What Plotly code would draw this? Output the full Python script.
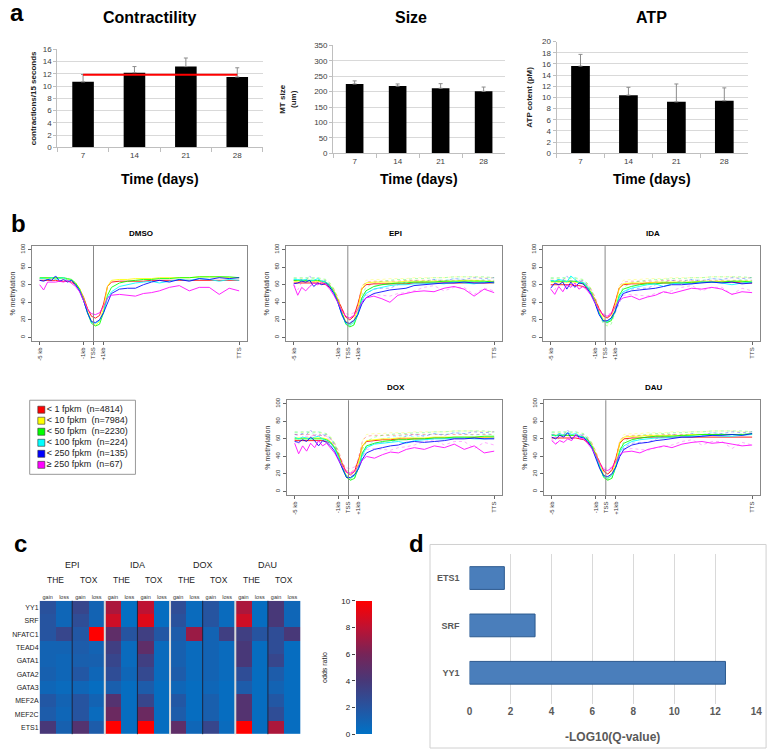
import plotly.graph_objects as go

W, H = 778, 755
FONT = "Liberation Sans, Arial, sans-serif"

# ---------------- panel a data ----------------
days = ["7", "14", "21", "28"]
contractility = [10.7, 12.2, 13.2, 11.5]
contractility_err = [1.2, 1.0, 1.4, 1.5]
contractility_mean = 11.85
mt_size = [225, 218, 211, 201]
mt_size_err = [10, 7, 15, 14]
atp_content = [15.6, 10.4, 9.2, 9.4]
atp_err = [2.1, 1.4, 3.2, 2.3]

# ---------------- panel b data ----------------
# genomic bins: -5kb ... -1kb, TSS, +1kb ... TTS (scaled gene body)
region_bins = [0, 2, 4, 6, 8, 10, 12, 14, 16, 18, 20, 22, 24, 26, 28, 30, 32, 34, 36,
               40, 44, 48, 52, 56, 60, 65, 70, 75, 80, 85, 90, 95, 100]
region_tick_pos = [0, 22, 27, 32, 100]
region_tick_text = ["-5 kb", "-1kb", "TSS", "+1kb", "TTS"]
tss_pos = 27

expr_labels = ["&lt; 1 fpkm\u00a0 (n=4814)", "&lt; 10 fpkm\u00a0 (n=7984)", "&lt; 50 fpkm\u00a0 (n=2230)",
               "&lt; 100 fpkm\u00a0 (n=224)", "&lt; 250 fpkm\u00a0 (n=135)", "\u2265 250 fpkm\u00a0 (n=67)"]
expr_colors = ["#ff0000", "#ffff00", "#00ff00", "#00ffff", "#0000ff", "#ff00ff"]

meth_dmso = [
    [65,65,65,65,65,64,64,64,63,60,55,46,33,24,22,25,38,58,63, 64,64,64,64,65,65, 65,65,65,65,65,65,65,65],
    [67,67,67,67,67,67,67,66,65,62,56,45,30,18,14,18,33,58,65, 66,66,67,67,67,68, 68,68,68,69,69,69,68,68],
    [68,68,68,68,68,68,68,67,66,62,55,43,28,16,13,15,28,48,57, 62,64,65,66,66,67, 67,68,68,69,69,69,69,68],
    [67,67,66,68,66,67,68,65,65,60,54,42,28,17,16,19,28,45,52, 58,60,62,63,64,62, 64,66,65,67,66,64,66,65],
    [65,64,66,65,70,64,66,63,65,60,53,42,28,18,17,20,28,40,50, 55,56,56,60,63,65, 63,66,64,67,66,68,67,68],
    [60,54,63,63,63,64,63,65,62,58,52,42,32,27,26,28,35,45,48, 49,48,47,50,51,53, 57,59,53,57,57,49,56,53],
]
meth_epi = [
    [62,62,62,62,62,62,62,61,60,57,52,43,32,23,20,24,38,55,60, 61,61,61,61,61,62, 62,62,62,62,62,62,62,62],
    [64,64,64,64,64,64,64,63,62,59,53,43,29,18,15,19,33,55,62, 63,63,63,63,64,64, 64,64,64,64,65,65,64,64],
    [65,65,65,65,65,65,65,64,63,59,52,41,27,15,12,14,26,45,53, 58,60,61,62,62,63, 63,63,64,64,64,64,64,63],
    [66,66,65,66,64,65,67,64,63,58,51,40,26,16,14,17,26,42,50, 55,57,59,60,60,61, 61,62,61,63,62,61,63,62],
    [61,62,64,63,65,58,62,60,62,57,50,40,26,17,16,19,26,38,45, 50,52,54,55,56,59, 60,61,62,62,63,62,62,63],
    [60,48,57,53,58,62,60,63,60,55,48,40,30,24,22,25,32,40,45, 47,44,40,48,50,52, 53,52,56,58,55,47,55,51],
]
meth_ida = [
    [60,60,60,60,60,60,59,59,58,56,51,43,33,25,22,26,40,56,60, 61,61,62,62,62,62, 62,62,63,63,63,63,62,62],
    [63,63,63,63,63,63,63,62,61,58,52,42,30,21,18,22,36,56,61, 62,62,62,63,63,63, 63,63,64,64,64,64,64,64],
    [64,64,64,64,64,64,64,63,62,58,51,40,28,19,17,19,30,48,55, 58,60,61,61,62,62, 62,63,63,63,63,64,64,63],
    [65,64,66,65,63,70,66,62,63,58,50,40,27,19,18,21,30,46,52, 56,58,60,61,58,61, 62,61,63,63,62,60,62,63],
    [56,62,60,63,55,63,57,62,61,56,49,39,26,19,19,22,30,42,50, 53,54,55,56,58,60, 60,61,62,63,62,63,61,62],
    [55,49,58,52,60,57,62,55,58,54,48,40,31,26,24,27,34,42,45, 47,43,46,48,52,50, 53,56,55,57,55,49,52,51],
]
meth_dox = [
    [58,58,58,58,58,58,58,58,57,55,50,42,31,22,19,23,36,52,57, 58,59,59,60,60,60, 60,61,61,61,61,61,61,61],
    [61,61,61,61,61,61,61,61,60,57,51,41,28,18,15,19,33,52,58, 59,60,60,61,61,61, 61,62,62,62,62,62,62,62],
    [60,60,60,60,60,60,60,60,59,56,50,40,26,16,13,15,27,44,52, 55,57,58,59,59,60, 60,61,61,62,62,62,63,63],
    [62,60,62,61,60,62,63,60,58,55,49,39,26,17,15,18,27,42,50, 54,55,56,57,55,58, 59,60,60,61,61,60,60,61],
    [57,56,59,57,62,58,52,58,56,52,46,36,24,16,16,19,26,37,44, 48,50,52,53,56,57, 56,57,58,60,60,61,60,60],
    [55,43,52,46,55,50,58,52,55,50,44,36,28,22,21,23,30,36,40, 38,42,45,44,48,50, 48,52,50,54,48,52,44,46],
]
meth_dau = [
    [61,61,61,61,61,61,61,60,59,56,51,43,32,23,20,24,38,55,60, 61,61,62,62,62,62, 62,62,62,62,62,62,62,62],
    [64,64,64,64,64,64,64,63,62,59,53,43,30,19,15,19,34,56,62, 63,63,64,64,64,64, 64,65,65,65,65,65,65,65],
    [64,64,64,64,64,64,64,63,62,59,52,41,27,16,13,15,28,47,55, 59,61,62,63,63,63, 64,64,65,65,65,65,65,66],
    [65,63,66,64,67,65,66,63,62,58,51,40,27,17,15,18,28,45,52, 57,59,60,61,61,62, 62,63,63,64,63,63,64,65],
    [62,60,64,62,67,60,64,62,61,57,50,39,26,18,17,20,28,40,48, 53,55,56,58,59,60, 62,62,63,64,64,65,64,66],
    [58,54,58,56,60,58,65,60,60,55,49,41,32,25,24,27,35,42,45, 46,44,48,50,52,50, 54,56,57,55,56,54,52,53],
]

# ---------------- panel c data ----------------
drugs = ["EPI", "IDA", "DOX", "DAU"]
classes = ["THE", "TOX"]
directions = ["gain", "loss"]
tf_names = ["YY1", "SRF", "NFATC1", "TEAD4", "GATA1", "GATA2", "GATA3", "MEF2A", "MEF2C", "ETS1"]
odds_ratio = [
    [2.2, 0.8, 3.0, 1.0, 7.5, 0.2, 8.0, 0.3, 2.5, 0.5, 2.0, 0.5, 7.5, 0.3, 4.0, 0.8],
    [2.0, 0.8, 2.5, 1.0, 8.5, 0.2, 9.0, 0.3, 2.2, 0.5, 2.0, 0.5, 8.5, 0.3, 4.0, 0.8],
    [2.0, 3.0, 1.8, 10.0, 5.0, 2.0, 3.5, 1.8, 1.5, 7.0, 1.0, 3.5, 3.5, 2.0, 2.5, 4.0],
    [1.0, 1.0, 1.5, 1.0, 3.5, 0.5, 5.0, 0.5, 1.2, 0.5, 1.0, 0.5, 4.0, 0.3, 2.5, 0.3],
    [1.0, 0.8, 1.3, 1.2, 3.0, 0.5, 3.5, 0.5, 1.2, 0.5, 1.0, 0.5, 4.0, 0.3, 3.0, 0.3],
    [1.2, 0.8, 1.8, 0.8, 2.5, 0.8, 2.8, 0.5, 1.5, 0.5, 1.0, 0.5, 2.5, 0.3, 1.5, 0.3],
    [0.8, 0.5, 0.8, 0.3, 1.3, 0.3, 1.5, 0.3, 0.8, 0.3, 0.8, 0.3, 1.5, 0.3, 1.0, 0.3],
    [1.8, 1.0, 2.0, 1.0, 4.5, 0.3, 3.0, 0.3, 1.8, 0.3, 1.3, 0.3, 4.5, 0.3, 1.8, 0.3],
    [1.5, 0.8, 2.0, 0.5, 5.5, 0.3, 5.5, 0.3, 1.5, 0.3, 1.3, 0.3, 4.5, 0.3, 2.5, 0.3],
    [4.0, 1.2, 4.5, 1.5, 10.0, 0.3, 10.0, 0.3, 5.0, 0.8, 3.0, 0.5, 10.0, 0.3, 7.5, 0.3],
]
odds_ticks = [0, 2, 4, 6, 8, 10]

# ---------------- panel d data ----------------
motifs = ["YY1", "SRF", "ETS1"]
neg_log10_q = [12.5, 3.2, 1.7]
q_ticks = [0, 2, 4, 6, 8, 10, 12, 14]


# ---------------- helpers ----------------
def xd(a, b):
    return [a / W, b / W]


def yd(top, bottom):
    return [1 - bottom / H, 1 - top / H]


def px(x):
    return x / W


def py(y):
    return 1 - y / H


def note(text, x, y, size, color="#222", xref="paper", textangle=0):
    return dict(text=text, x=(px(x) if xref == "paper" else x), y=py(y), xref=xref, yref="paper",
                xanchor="center", yanchor="middle", showarrow=False, textangle=textangle,
                font=dict(size=size, color=color))


fig = go.Figure()
layout = dict(width=W, height=H, margin=dict(l=0, r=0, t=0, b=0),
              paper_bgcolor="white", plot_bgcolor="white", showlegend=False,
              font=dict(family=FONT, color="#222"))
annotations = []
shapes = []

# ---------------- panel a ----------------
a_specs = [
    (1, (55, 263), (46, 145), [0, 16], 2, "contractions/15 seconds", contractility, contractility_err, 0.42, 5),
    (2, (334, 508), (42, 151), [0, 350], 50, "MT size<br>(um)", mt_size, mt_size_err, 0.41, 16),
    (3, (560, 754), (38, 151), [0, 20], 2, "ATP cotent (pM)", atp_content, atp_err, 0.39, 8),
]
for spec in a_specs:
    i, xdom, ydom, rng, dt, ytitle, vals, errs, bw, stand = spec
    sx = "" if i == 1 else str(i)
    fig.add_trace(go.Bar(
        x=days, y=vals, width=bw, marker=dict(color="black", line=dict(width=0)),
        error_y=dict(type="data", symmetric=False, array=errs, arrayminus=[0] * len(errs),
                     color="#8c8c8c", thickness=1, width=2),
        xaxis="x" + sx, yaxis="y" + sx, hoverinfo="skip"))
    layout["xaxis" + sx] = dict(domain=xd(*xdom), anchor="y" + sx, type="category",
                                showline=True, linecolor="#bfbfbf", ticks="outside",
                                tickson="boundaries", ticklen=4, tickcolor="#bfbfbf",
                                tickfont=dict(size=8, color="#404040"), showgrid=False)
    layout["yaxis" + sx] = dict(domain=yd(*ydom), anchor="x" + sx, range=rng, dtick=dt,
                                showgrid=True, gridcolor="#d9d9d9", gridwidth=1,
                                showline=True, linecolor="#bfbfbf", ticks="outside",
                                ticklen=3, tickcolor="#bfbfbf", zeroline=False,
                                tickfont=dict(size=8, color="#404040"),
                                title=dict(text="<b>" + ytitle + "</b>", standoff=stand,
                                           font=dict(size=8, color="#222")))

fig.add_trace(go.Scatter(x=[days[0], days[-1]], y=[contractility_mean, contractility_mean],
                         mode="lines", line=dict(color="#ff0000", width=2),
                         xaxis="x", yaxis="y", hoverinfo="skip"))

for txt, x, y in [("Contractility", 148, 14), ("Size", 413, 14), ("ATP", 656, 14)]:
    annotations.append(note("<b>" + txt + "</b>", x, y, 16, "black"))
for x in [159, 421, 657]:
    annotations.append(note("<b>Time (days)</b>", x, 177, 14, "black"))

# ---------------- panel b ----------------
b_panels = [
    ("DMSO", meth_dmso, (29, 247), (245, 341)),
    ("EPI", meth_epi, (286, 505), (245, 341)),
    ("IDA", meth_ida, (546, 766), (245, 341)),
    ("DOX", meth_dox, (287, 505), (401, 497)),
    ("DAU", meth_dau, (547, 766), (401, 497)),
]
for k, (name, data, xdom, ydom) in enumerate(b_panels):
    n = 4 + k
    sx = str(n)
    if name != "DMSO":
        for ser, col in zip(meth_dmso, expr_colors):
            fig.add_trace(go.Scatter(x=region_bins, y=ser, mode="lines",
                                     line=dict(color=col, width=0.8, dash="dot"), opacity=0.4,
                                     xaxis="x" + sx, yaxis="y" + sx, hoverinfo="skip"))
    for ser, col in zip(data, expr_colors):
        fig.add_trace(go.Scatter(x=region_bins, y=ser, mode="lines",
                                 line=dict(color=col, width=1.0), opacity=0.85,
                                 xaxis="x" + sx, yaxis="y" + sx, hoverinfo="skip"))
    layout["xaxis" + sx] = dict(domain=xd(*xdom), anchor="y" + sx, range=[-4, 104],
                                tickvals=region_tick_pos, ticktext=region_tick_text,
                                tickangle=-90, tickfont=dict(size=6, color="#333"),
                                ticks="outside", ticklen=3, tickcolor="#666",
                                showline=True, mirror=True, linecolor="#888", linewidth=1,
                                showgrid=False, zeroline=False)
    layout["yaxis" + sx] = dict(domain=yd(*ydom), anchor="x" + sx, range=[-4, 104],
                                tickvals=[0, 20, 40, 60, 80, 100], tickangle=-90,
                                tickfont=dict(size=6, color="#333"),
                                ticks="outside", ticklen=3, tickcolor="#666",
                                showline=True, mirror=True, linecolor="#888", linewidth=1,
                                showgrid=False, zeroline=False,
                                title=dict(text="% methylation", standoff=3,
                                           font=dict(size=7, color="#333")))
    shapes.append(dict(type="line", xref="x" + sx, yref="y" + sx + " domain",
                       x0=tss_pos, x1=tss_pos, y0=0, y1=1, line=dict(color="#888", width=1)))
    cx = (xdom[0] + xdom[1]) / 2
    annotations.append(note("<b>" + name + "</b>", cx + 2, ydom[0] - 13, 8, "black"))

# legend for panel b (drawn on its own small axis)
fig.add_trace(go.Scatter(
    x=[0] * len(expr_labels), y=list(range(len(expr_labels)))[::-1],
    mode="markers+text", text=expr_labels, textposition="middle right",
    textfont=dict(size=9, color="#222"),
    marker=dict(symbol="square", size=7, color=expr_colors, line=dict(color="#333", width=0.6)),
    xaxis="x9", yaxis="y9", hoverinfo="skip"))
layout["xaxis9"] = dict(domain=xd(34, 134), anchor="y9", range=[-0.5, 10], visible=False)
layout["yaxis9"] = dict(domain=yd(405, 472), anchor="x9", range=[-0.5, 5.5], visible=False)
shapes.append(dict(type="rect", xref="paper", yref="paper", x0=px(27), x1=px(134),
                   y0=py(476), y1=py(401), line=dict(color="#999", width=1)))

# ---------------- panel c ----------------
col_ids = list(range(len(drugs) * len(classes) * len(directions)))
col_text = [directions[c % 2] for c in col_ids]
colorscale = [[0.0, "rgb(0,114,198)"], [0.2, "rgb(38,84,160)"], [0.4, "rgb(72,56,120)"],
              [0.6, "rgb(118,36,88)"], [0.8, "rgb(190,18,50)"], [1.0, "rgb(255,0,0)"]]
fig.add_trace(go.Heatmap(
    z=odds_ratio, x=col_ids, y=tf_names, zmin=0, zmax=10, colorscale=colorscale,
    xaxis="x10", yaxis="y10", hoverinfo="skip",
    colorbar=dict(x=px(357), xanchor="left", xpad=0, y=py(604), yanchor="top", ypad=0,
                  len=135 / H, lenmode="fraction", thickness=16, thicknessmode="pixels",
                  outlinewidth=0, showticklabels=False, ticks="")))
layout["xaxis10"] = dict(domain=xd(37, 301), anchor="y10", side="top", range=[-0.5, 15.5],
                         tickvals=col_ids, ticktext=col_text, tickfont=dict(size=5.5, color="#333"),
                         ticks="", showgrid=False, zeroline=False, showline=False)
layout["yaxis10"] = dict(domain=yd(604, 739), anchor="x10", autorange="reversed",
                         tickfont=dict(size=7, color="#222"), ticks="", showgrid=False,
                         zeroline=False, showline=False)
for b in [1.5, 5.5, 9.5, 13.5]:
    shapes.append(dict(type="line", xref="x10", yref="y10 domain", x0=b, x1=b, y0=0, y1=1,
                       line=dict(color="#1c2540", width=1)))
for b in [3.5, 7.5, 11.5]:
    shapes.append(dict(type="line", xref="x10", yref="y10 domain", x0=b, x1=b, y0=0, y1=1,
                       line=dict(color="#d8d8d8", width=2)))
for d_i, dname in enumerate(drugs):
    annotations.append(note(dname, 4 * d_i + 1.5, 568, 9, xref="x10"))
    for c_i, cname in enumerate(classes):
        annotations.append(note(cname, 4 * d_i + 2 * c_i + 0.5, 583, 8.5, xref="x10"))

# colorbar tick axis
fig.add_trace(go.Scatter(x=[None], y=[None], xaxis="x11", yaxis="y11", hoverinfo="skip"))
layout["xaxis11"] = dict(domain=xd(357, 373), anchor="y11", visible=False, range=[0, 1])
layout["yaxis11"] = dict(domain=yd(604, 739), anchor="x11", range=[0, 10], tickvals=odds_ticks,
                         ticks="outside", ticklen=3, tickcolor="#444", showgrid=False,
                         zeroline=False, showline=False, tickfont=dict(size=8, color="#222"),
                         title=dict(text="odds ratio", standoff=12, font=dict(size=7, color="#222")))

# ---------------- panel d ----------------
fig.add_trace(go.Bar(
    x=neg_log10_q, y=motifs, orientation="h", width=0.48,
    marker=dict(color="#4a7ebb", line=dict(color="#2c5a8f", width=1)),
    xaxis="x12", yaxis="y12", hoverinfo="skip"))
layout["xaxis12"] = dict(domain=xd(472, 762), anchor="y12", range=[0, 14],
                         tickvals=q_ticks, ticktext=["<b>%d</b>" % v for v in q_ticks],
                         showgrid=True, gridcolor="#d9d9d9", zeroline=False, showline=False,
                         ticks="", tickfont=dict(size=10, color="#595959"))
layout["yaxis12"] = dict(domain=yd(557, 708), anchor="x12", type="category",
                         categoryarray=motifs, categoryorder="array", range=[-0.65, 2.5],
                         tickvals=motifs, ticktext=["<b>" + m + "</b>" for m in motifs],
                         ticks="", showgrid=False, zeroline=False, showline=False,
                         ticklabelstandoff=9,
                         tickfont=dict(size=9, color="#595959"))
annotations.append(note("<b>-LOG10(Q-value)</b>", 617, 742, 12, "#595959"))
shapes.append(dict(type="rect", xref="paper", yref="paper", x0=px(432), x1=px(772),
                   y0=py(753), y1=py(547), line=dict(color="#d0d0d0", width=1)))

# ---------------- panel letters ----------------
for letter, x, y in [("a", 14, 9), ("b", 16, 222), ("c", 18, 546), ("d", 418, 546)]:
    annotations.append(note("<b>" + letter + "</b>", x, y, 24, "black"))

layout["annotations"] = annotations
layout["shapes"] = shapes
fig.update_layout(**layout)
fig.write_html("out.html", config={"displayModeBar": False},
               post_script="document.body.style.margin='0';document.body.style.padding='0';")
